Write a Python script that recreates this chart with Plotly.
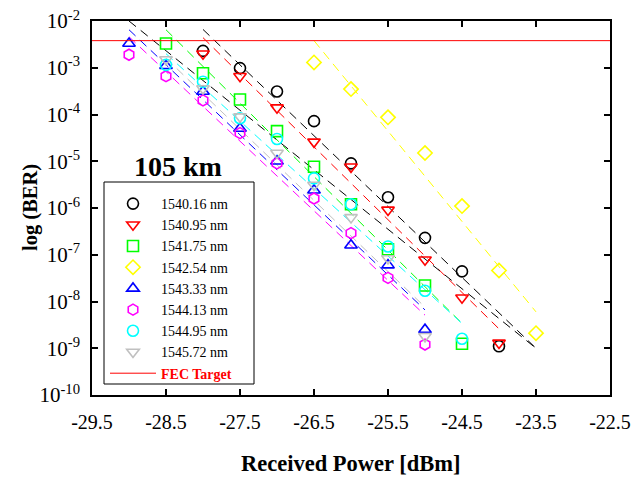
import plotly.graph_objects as go

# ---------------- data ----------------
names = ["1540.16 nm", "1540.95 nm", "1541.75 nm", "1542.54 nm",
         "1543.33 nm", "1544.13 nm", "1544.95 nm", "1545.72 nm"]
colors = ["#000000", "#ff0000", "#00ff00", "#ffff00",
          "#0000ff", "#ff00ff", "#00ffff", "#c0c0c0"]
symbols = ["circle-open", "triangle-down-open", "square-open", "diamond-open",
           "triangle-up-open", "hexagon-open", "circle-open", "triangle-down-open"]

p_1540_16 = [-28, -27.5, -27, -26.5, -26, -25.5, -25, -24.5, -24]
ber_1540_16 = [2.3e-3, 9.8e-4, 3.1e-4, 7.2e-5, 9.0e-6, 1.7e-6, 2.3e-7, 4.4e-8, 1.1e-9]

p_1540_95 = [-28, -27.5, -27, -26.5, -26, -25.5, -25, -24.5, -24]
ber_1540_95 = [2.0e-3, 6.6e-4, 1.4e-4, 2.6e-5, 7.6e-6, 9.1e-7, 7.8e-8, 1.2e-8, 1.3e-9]

p_1541_75 = [-28.5, -28, -27.5, -27, -26.5, -26, -25.5, -25, -24.5]
ber_1541_75 = [3.3e-3, 7.6e-4, 2.1e-4, 4.4e-5, 7.6e-6, 1.2e-6, 1.3e-7, 2.2e-8, 1.25e-9]

p_1542_54 = [-26.5, -26, -25.5, -25, -24.5, -24, -23.5]
ber_1542_54 = [1.3e-3, 3.5e-4, 8.7e-5, 1.5e-5, 1.1e-6, 4.6e-8, 2.1e-9]

p_1543_33 = [-29, -28.5, -28, -27.5, -27, -26.5, -26, -25.5, -25]
ber_1543_33 = [3.3e-3, 1.1e-3, 3.1e-4, 5.0e-5, 1.0e-5, 2.4e-6, 1.6e-7, 6.0e-8, 2.5e-9]

p_1544_13 = [-29, -28.5, -28, -27.5, -27, -26.5, -26, -25.5, -25]
ber_1544_13 = [1.9e-3, 6.6e-4, 2.0e-4, 4.0e-5, 9.0e-6, 1.6e-6, 2.9e-7, 3.2e-8, 1.2e-9]

p_1544_95 = [-28.5, -28, -27.5, -27, -26.5, -26, -25.5, -25, -24.5]
ber_1544_95 = [1.15e-3, 5.0e-4, 8.3e-5, 3.0e-5, 4.3e-6, 1.2e-6, 1.5e-7, 1.7e-8, 1.6e-9]

p_1545_72 = [-28.5, -28, -27.5, -27, -26.5, -26, -25.5, -25]
ber_1545_72 = [1.5e-3, 3.6e-4, 9.0e-5, 1.5e-5, 3.1e-6, 6.3e-7, 8.3e-8, 1.8e-9]

# dashed fit lines: [start power, end power], [start BER, end BER]
fit_p = [[-28.0, -23.5], [-28.0, -24.0], [-28.5, -24.5], [-26.5, -23.5],
         [-29.0, -25.0], [-29.0, -25.0], [-28.5, -24.5], [-28.5, -25.0]]
fit_ber = [[6.6e-3, 1.0e-9], [4.4e-3, 2.6e-9], [6.5e-3, 3.4e-9], [3.8e-3, 6.0e-9],
           [6.5e-3, 6.6e-9], [4.6e-3, 5.1e-9], [2.0e-3, 3.4e-9], [1.6e-3, 7.6e-9]]
extra_fit_p = [-29.0, -23.5]
extra_fit_ber = [1.0e-2, 1.0e-9]

fec_p = [-29.5, -22.5]
fec_ber = [3.8e-3, 3.8e-3]

x_ticks = [-29.5, -28.5, -27.5, -26.5, -25.5, -24.5, -23.5, -22.5]
x_tick_text = ["-29.5", "-28.5", "-27.5", "-26.5", "-25.5", "-24.5", "-23.5", "-22.5"]
y_ticks = [1e-2, 1e-3, 1e-4, 1e-5, 1e-6, 1e-7, 1e-8, 1e-9, 1e-10]
y_tick_text = ["10<sup>-2</sup>", "10<sup>-3</sup>", "10<sup>-4</sup>", "10<sup>-5</sup>",
               "10<sup>-6</sup>", "10<sup>-7</sup>", "10<sup>-8</sup>", "10<sup>-9</sup>",
               "10<sup>-10</sup>"]

series_p = [p_1540_16, p_1540_95, p_1541_75, p_1542_54, p_1543_33, p_1544_13, p_1544_95, p_1545_72]
series_ber = [ber_1540_16, ber_1540_95, ber_1541_75, ber_1542_54, ber_1543_33, ber_1544_13,
              ber_1544_95, ber_1545_72]

FONT = "Liberation Serif"
fig = go.Figure()

# fit lines first (behind markers)
for i in range(len(names)):
    fig.add_trace(go.Scatter(x=fit_p[i], y=fit_ber[i], mode="lines",
                             line=dict(color=colors[i], width=1, dash="9px,6px"),
                             showlegend=False, hoverinfo="skip"))
fig.add_trace(go.Scatter(x=extra_fit_p, y=extra_fit_ber, mode="lines",
                         line=dict(color="#000000", width=1, dash="9px,6px"),
                         showlegend=False, hoverinfo="skip"))

for i in range(len(names)):
    fig.add_trace(go.Scatter(x=series_p[i], y=series_ber[i], mode="markers", name=names[i],
                             marker=dict(symbol=symbols[i], size=11, color=colors[i],
                                         line=dict(color=colors[i], width=1.6))))

fig.add_trace(go.Scatter(x=fec_p, y=fec_ber, mode="lines",
                         name='<span style="color:#ff0000"><b>FEC Target</b></span>',
                         line=dict(color="#ff0000", width=1)))

L, R, T, B = 92, 27, 21, 82
W, H = 637, 477
pw, ph = W - L - R, H - T - B

def px(xp):
    return (xp - L) / pw

def py(yp):
    return (H - B - yp) / ph

fig.update_layout(
    width=W, height=H,
    margin=dict(l=L, r=R, t=T, b=B, autoexpand=False),
    paper_bgcolor="white", plot_bgcolor="white",
    font=dict(family=FONT, color="black", size=19),
    showlegend=True,
    legend=dict(x=px(105), y=py(188), xanchor="left", yanchor="top",
                bgcolor="rgba(0,0,0,0)", borderwidth=0,
                font=dict(family=FONT, size=14, color="black"),
                itemwidth=46, tracegroupgap=0),
    shapes=[dict(type="rect", xref="paper", yref="paper",
                 x0=px(104), x1=px(254), y0=py(384), y1=py(182),
                 line=dict(color="black", width=1))],
    annotations=[
        dict(text="<b>105 km</b>", x=px(178), y=py(166), xref="paper", yref="paper",
             xanchor="center", yanchor="middle",
             showarrow=False, font=dict(family=FONT, size=28, color="black")),
        dict(text="<b>Received Power [dBm]</b>", x=px(351), y=py(463), xref="paper", yref="paper",
             xanchor="center", yanchor="middle",
             showarrow=False, font=dict(family=FONT, size=22.5, color="black")),
        dict(text="<b>log (BER)</b>", x=px(30), y=py(208), xref="paper", yref="paper",
             xanchor="center", yanchor="middle",
             showarrow=False, textangle=-90, font=dict(family=FONT, size=20.5, color="black")),
    ],
)

fig.update_xaxes(range=[-29.5, -22.5], tickvals=x_ticks, ticktext=x_tick_text,
                 ticks="inside", ticklen=6, tickwidth=1.5, tickcolor="black",
                 showline=True, linecolor="black", linewidth=1.5, mirror="ticks",
                 showgrid=False, zeroline=False, ticklabelstandoff=8, automargin=False,
                 tickfont=dict(family=FONT, size=20, color="black"))
fig.update_yaxes(type="log", range=[-10, -2], tickvals=y_ticks, ticktext=y_tick_text,
                 ticks="inside", ticklen=6, tickwidth=1.5, tickcolor="black",
                 showline=True, linecolor="black", linewidth=1.5, mirror="ticks",
                 showgrid=False, zeroline=False, ticklabelstandoff=6, automargin=False,
                 tickfont=dict(family=FONT, size=21, color="black"))

fig.write_html("out.html", config={"displayModeBar": False},
               post_script="document.body.style.margin='0px';document.body.style.padding='0px';")
